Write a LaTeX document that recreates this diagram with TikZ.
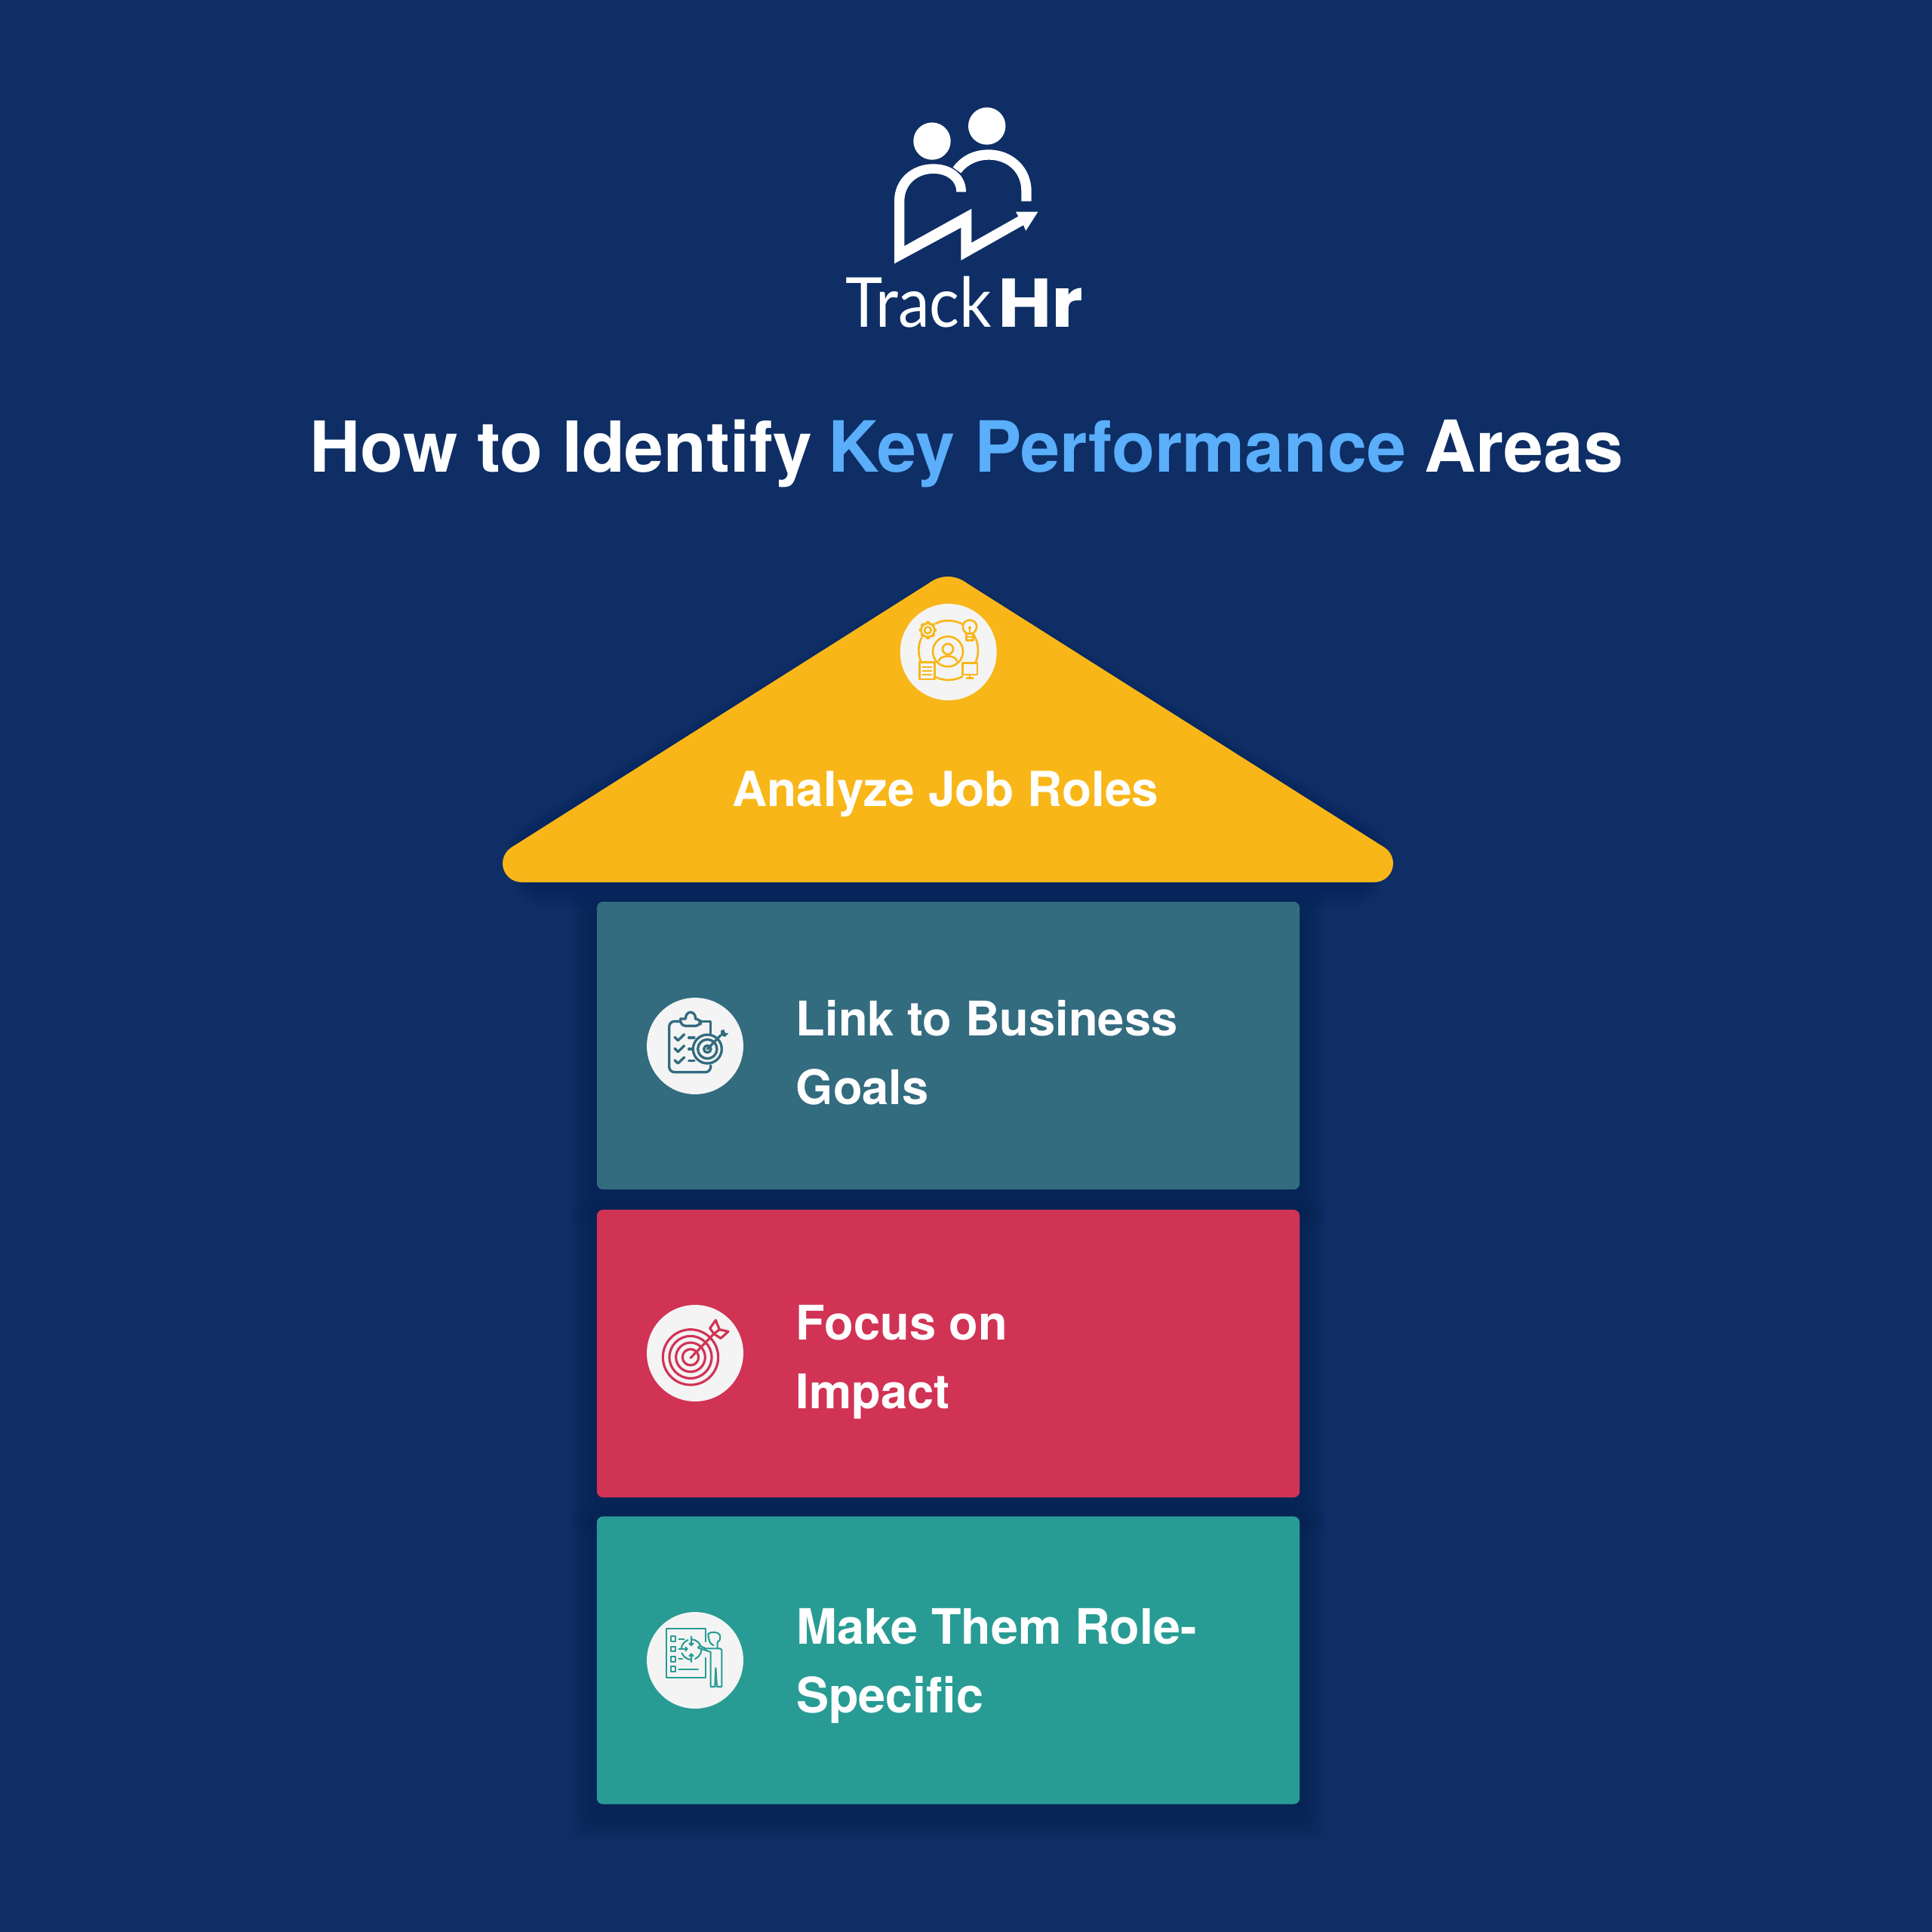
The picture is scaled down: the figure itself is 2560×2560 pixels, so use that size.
\documentclass[tikz,border=0pt]{standalone}
\usepackage{fontspec}
\setmainfont{TeX Gyre Heros}
\newfontfamily\logolight[FakeStretch=0.915]{Lato}
\newfontfamily\logoheavy[FakeStretch=1.07]{Poppins}
\usetikzlibrary{calc}
\definecolor{bgnavy}{HTML}{0E2E65}
\definecolor{shadenavy}{HTML}{071A40}
\definecolor{roofyellow}{HTML}{F8B618}
\definecolor{cardslate}{HTML}{336B7F}
\definecolor{cardred}{HTML}{D13355}
\definecolor{cardgreen}{HTML}{289C94}
\definecolor{skyblue}{HTML}{5AAEFA}
\definecolor{discwhite}{HTML}{F4F4F4}
\tikzset{
  x=0.02cm,y=-0.02cm,
  cardbox/.style={rectangle,rounded corners=4.5pt,minimum width=530pt,minimum height=217pt,inner sep=0pt},
  disc/.style={circle,fill=discwhite,minimum size=72.8pt,inner sep=0pt},
  cardtext/.style={text=white,font=\bfseries\fontsize{36pt}{51.8pt}\selectfont,align=left,anchor=west,inner sep=0pt},
  icon/.style n args={2}{line width=#2,line cap=round,line join=round,draw=#1},
  zoomed/.style={shift={(#1)},scale=1/3},
}
\begin{document}
\begin{tikzpicture}
\useasboundingbox (0,0) rectangle (2560,2560);
\fill[bgnavy] (0,0) rectangle (2560,2560);

% soft shadows
\foreach \k in {1,...,10}{
  \fill[shadenavy,opacity=0.035,rounded corners=10pt]
    ($(791,1195)+(-\k*3.5,14-\k*2.5)$) rectangle ($(1722,1576)+(\k*3.5,14+\k*3.5)$);
  \fill[shadenavy,opacity=0.035,rounded corners=10pt]
    ($(791,1603)+(-\k*3.5,14-\k*2.5)$) rectangle ($(1722,1984)+(\k*3.5,14+\k*3.5)$);
  \fill[shadenavy,opacity=0.035,rounded corners=10pt]
    ($(791,2010)+(-\k*3.5,14-\k*2.5)$) rectangle ($(1722,2390)+(\k*3.5,14+\k*3.5)$);
  \fill[shadenavy,opacity=0.025,rounded corners=20pt]
    ($(691,1169)+(0,6+\k*3)$) -- ($(678,1123)+(-\k*1.5,6-\k*2)$) -- ($(1256,768)+(0,6-\k*2)$) -- ($(1834,1123)+(\k*1.5,6-\k*2)$) -- ($(1821,1169)+(0,6+\k*3)$) -- cycle;
}

% logo
\fill[white] (1235,187) circle[radius=24.7];
\fill[white] (1307.7,167) circle[radius=24.7];
\begin{scope}[zoomed={1080,120}]
\fill[white] (315,688) -- (315,440) .. controls (315,350) and (385,292) .. (470,292)
  .. controls (545,292) and (600,335) .. (600,403) -- (562,403)
  .. controls (562,360) and (525,330) .. (470,330)
  .. controls (405,330) and (355,375) .. (355,440) -- (355,618) -- (622,470) -- (622,605)
  -- (808,500) -- (798,482) -- (886,482) -- (838,557) -- (828,535) -- (580,675) -- (580,545) -- cycle;
\fill[white] (548,305) .. controls (580,260) and (630,235) .. (690,235)
  .. controls (785,235) and (860,305) .. (860,400) -- (860,440) -- (820,440) -- (820,400)
  .. controls (820,325) and (765,275) .. (690,275)
  .. controls (645,275) and (605,295) .. (580,328) -- cycle;
\end{scope}
\node[anchor=base west,inner sep=0pt,text=white] (logotext) at (1120,433)
  {\fontsize{52pt}{60pt}\selectfont\makebox[115pt][l]{\logolight Track}{\logoheavy\bfseries Hr}};

% title
\node[anchor=base,inner sep=0pt,text=white,font=\bfseries\fontsize{53pt}{60pt}\selectfont] (title) at (1281,625)
  {How to Identify\hspace{-2.8pt} \textcolor{skyblue}{\fontsize{53.25pt}{60pt}\selectfont Key Performance}\hspace{-1pt} {\fontsize{54pt}{60pt}\selectfont Areas}};

% roof: polygon plus the three corner discs
\fill[roofyellow] (691,1169) -- (677.7,1122.8) -- (1234.8,770.2) -- (1277.2,770.2) -- (1834.3,1122.8) -- (1821,1169) -- cycle;
\fill[roofyellow] (691,1144) circle[radius=25];
\fill[roofyellow] (1821,1144) circle[radius=25];
\fill[roofyellow] (1256,804) circle[radius=40];
\node[text=white,font=\bfseries\fontsize{36.4pt}{44pt}\selectfont,anchor=base,inner sep=0pt] (rooflabel) at (1253,1068) {Analyze Job Roles};

% cards
\node[cardbox,fill=cardslate] (card1) at (1256.5,1385.5) {};
\node[cardbox,fill=cardred] (card2) at (1256.5,1793.5) {};
\node[cardbox,fill=cardgreen] (card3) at (1256.5,2200) {};
\node[cardtext] (text1) at (1054.5,1395) {Link to Business\\Goals};
\node[cardtext] (text2) at (1054.5,1804.5) {Focus on\\Impact};
\node[cardtext,font=\bfseries\fontsize{36.8pt}{51.8pt}\selectfont] (text3) at (1055,2207.5) {Make Them Role-\\Specific};

% icon discs
\node[disc] (disc0) at (1256.7,864) {};
\node[disc] (disc1) at (921,1386) {};
\node[disc] (disc2) at (921,1793) {};
\node[disc] (disc3) at (921,2200) {};

% icon: job roles
\begin{scope}[zoomed={1170,780},icon={roofyellow}{1.5pt}]
\draw (260,245) circle[radius=118];
\fill[discwhite] (178,165) circle[radius=38];
\fill[discwhite] (345,155) circle[radius=33];
\fill[discwhite] (145,293) rectangle (205,360);
\fill[discwhite] (317,295) rectangle (375,356);
\foreach \a in {0,45,...,315}{
  \draw[line width=2.6pt,line cap=butt] (178,165)++(\a:27) -- ++(\a:8);
}
\draw (178,165) circle[radius=27];
\draw (178,165) circle[radius=13];
\draw (331,178) .. controls (305,155) and (320,125) .. (345,125) .. controls (370,125) and (385,155) .. (358,178);
\draw (331,178) -- (331,205) -- (358,205) -- (358,178) -- cycle;
\draw (331,192) -- (358,192);
\draw (345,155) -- (345,178);
\fill[roofyellow] (345,155) circle[radius=6];
\draw (145,293) rectangle (205,360);
\draw (158,312) -- (192,312) (158,327) -- (192,327) (158,342) -- (192,342);
\draw (317,295) rectangle (375,342);
\draw (345,342) -- (345,356) (333,356) -- (358,356);
\draw (258,250) circle[radius=60];
\draw (258,240) circle[radius=21];
\draw (222,287) .. controls (228,262) and (288,262) .. (294,287);
\end{scope}

% icon: clipboard and target
\begin{scope}[zoomed={840,1300},icon={cardslate}{1.9pt}]
\draw[rounded corners=4pt] (185,160) -- (140,160) -- (140,362) -- (305,362) -- (305,335);
\draw (305,215) -- (305,160) -- (265,160);
\draw[rounded corners=4pt] (185,150) -- (185,178) -- (265,178) -- (265,150) -- (245,150);
\draw (185,150) -- (205,150) .. controls (205,115) and (245,115) .. (245,150);
\foreach \y in {225,270,316}{
  \draw (162,\y-2) -- (175,\y+11) -- (200,\y-13);
  \draw (218,\y) -- (240,\y);
}
\fill[discwhite] (292,270) circle[radius=57];
\draw (292,270) circle[radius=57];
\draw (292,270) circle[radius=38];
\draw (292,270) circle[radius=14];
\draw (292,270) -- (345,215);
\fill[cardslate] (345,215) -- (345,197) -- (358,192) -- (362,205) -- (376,208) -- (362,222) -- cycle;
\end{scope}

% icon: target
\begin{scope}[zoomed={840,1710},icon={cardred}{1.8pt}]
\foreach \r in {110,84,58,32}{ \draw (225,265) circle[radius=\r]; }
\draw (225,268) -- (318,172);
\draw (318,172) -- (302,150) -- (325,118) -- (340,155) -- cycle;
\draw (318,172) -- (345,190) -- (375,163) -- (340,155);
\end{scope}

% icon: plan and person
\begin{scope}[zoomed={840,2115},icon={cardgreen}{1.2pt}]
\draw (285,180) -- (285,130) -- (128,130) -- (128,325) -- (285,325) -- (285,245);
\foreach \y in {170,210,250,290}{ \draw (146,\y-10) rectangle (166,\y+10); }
\draw (178,170) -- (200,170) (178,210) -- (212,210) (178,250) -- (192,250) (178,290) -- (255,290);
\draw (205,203) -- (212,210) -- (205,217);
\draw[dash pattern=on 9pt off 3pt] (228,212) circle[radius=40];
\draw (228,160) -- (228,195) (220,187) -- (228,195) -- (236,187);
\draw (228,262) -- (228,230) (220,238) -- (228,230) -- (236,238);
\draw (295,150) .. controls (305,140) and (335,140) .. (342,155) .. controls (345,175) and (338,180) .. (332,183) -- (332,208);
\draw (295,150) .. controls (297,170) and (300,192) .. (316,195);
\draw (255,205) -- (305,222) -- (305,360) -- (322,360) -- (325,285) -- (330,360) -- (349,360) -- (349,215) .. controls (349,210) and (345,208) .. (332,208) -- (285,208) -- (262,197);
\draw (255,205) -- (262,197);
\end{scope}
\end{tikzpicture}
\end{document}
